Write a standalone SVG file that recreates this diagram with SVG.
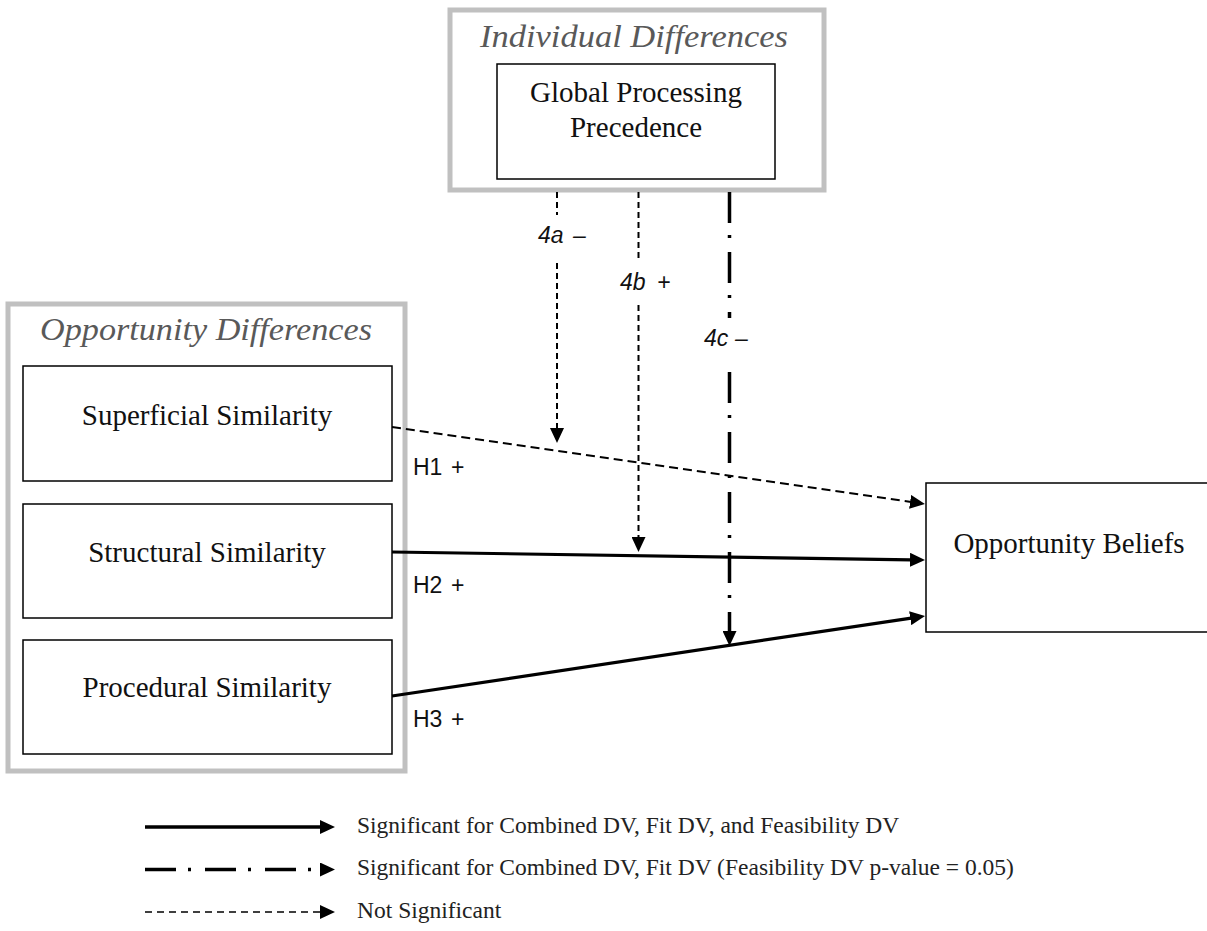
<svg xmlns="http://www.w3.org/2000/svg" width="1207" height="931" viewBox="0 0 1207 931">
<defs>
<style>
.group{fill:none;stroke:#c0c0c0;stroke-width:5}
.node{fill:#fff;stroke:#000;stroke-width:1.5}
.ntext{font-family:"Liberation Serif","Times New Roman",serif;font-size:29px;fill:#111;text-anchor:middle}
.gtext{font-family:"Liberation Serif","Times New Roman",serif;font-size:31px;font-style:italic;fill:#595959;text-anchor:middle}
.lab{font-family:"Liberation Sans",Arial,sans-serif;font-size:23px;fill:#111}
.mlab{font-family:"Liberation Sans",Arial,sans-serif;font-size:23px;font-style:italic;fill:#111}
.leg{font-family:"Liberation Serif","Times New Roman",serif;font-size:23.5px;fill:#222}
.solid{fill:none;stroke:#000;stroke-width:3.2}
.dashdot{fill:none;stroke:#000;stroke-width:3.5;stroke-dasharray:31 12 3 14}
.dash{fill:none;stroke:#000;stroke-width:2;stroke-dasharray:6 4}
.dash2{fill:none;stroke:#000;stroke-width:2;stroke-dasharray:9 5}
</style>
<marker id="ah" markerUnits="userSpaceOnUse" markerWidth="15" markerHeight="14" refX="1" refY="7" orient="auto">
<path d="M0,0 L15,7 L0,14 z" fill="#000"/>
</marker>
</defs>
<rect width="1207" height="931" fill="#fff"/>

<g id="individual-differences">
<rect class="group" x="450" y="10" width="374" height="180"/>
<text class="gtext" x="634" y="47" textLength="308" lengthAdjust="spacingAndGlyphs">Individual Differences</text>
</g>
<g id="global-processing">
<rect class="node" x="497" y="64" width="278" height="115"/>
<text class="ntext" x="636" y="102">Global Processing</text>
<text class="ntext" x="636" y="137">Precedence</text>
</g>

<g id="opportunity-differences">
<rect class="group" x="8" y="304" width="397" height="467"/>
<text class="gtext" x="206" y="340" textLength="332" lengthAdjust="spacingAndGlyphs">Opportunity Differences</text>
</g>
<g id="superficial">
<rect class="node" x="23" y="366" width="369" height="115"/>
<text class="ntext" x="207" y="425">Superficial Similarity</text>
</g>
<g id="structural">
<rect class="node" x="23" y="504" width="369" height="114"/>
<text class="ntext" x="207" y="562">Structural Similarity</text>
</g>
<g id="procedural">
<rect class="node" x="23" y="640" width="369" height="114"/>
<text class="ntext" x="207" y="697">Procedural Similarity</text>
</g>
<g id="opportunity-beliefs">
<rect class="node" x="926" y="483" width="285" height="149"/>
<text class="ntext" x="1069" y="553">Opportunity Beliefs</text>
</g>

<g id="connectors">
<path class="dash2" d="M392,427 L911.1,502" marker-end="url(#ah)"/>
<path class="solid" d="M392,552 L911,559.8" marker-end="url(#ah)"/>
<path class="solid" d="M392,696 L911.2,618.1" marker-end="url(#ah)"/>
<path class="dash" d="M557,192 V215 M557,263 V429" marker-end="url(#ah)"/>
<path class="dash" d="M638.5,192 V258 M638.5,305 V538" marker-end="url(#ah)"/>
<path class="dashdot" d="M729.5,192 V318 M729.5,372 V632" marker-end="url(#ah)"/>
</g>

<g id="connector-labels">
<text class="mlab" y="243"><tspan x="538">4a</tspan><tspan x="573">–</tspan></text>
<text class="mlab" y="290"><tspan x="620">4b</tspan><tspan x="657">+</tspan></text>
<text class="mlab" y="346"><tspan x="704">4c</tspan><tspan x="735">–</tspan></text>
<text class="lab" y="475"><tspan x="413">H1</tspan><tspan x="451">+</tspan></text>
<text class="lab" y="593"><tspan x="413">H2</tspan><tspan x="451">+</tspan></text>
<text class="lab" y="727"><tspan x="413">H3</tspan><tspan x="451">+</tspan></text>
</g>

<g id="legend">
<path class="solid" style="stroke-width:3.5" d="M145,827 L321,827" marker-end="url(#ah)"/>
<path class="dashdot" d="M145,869.5 L321,869.5" marker-end="url(#ah)"/>
<path class="dash" style="stroke-width:1.5;stroke-dasharray:7 5" d="M145,912 L321,912" marker-end="url(#ah)"/>
<text class="leg" x="357" y="833">Significant for Combined DV, Fit DV, and Feasibility DV</text>
<text class="leg" x="357" y="875">Significant for Combined DV, Fit DV (Feasibility DV p-value = 0.05)</text>
<text class="leg" x="357" y="918">Not Significant</text>
</g>
</svg>
